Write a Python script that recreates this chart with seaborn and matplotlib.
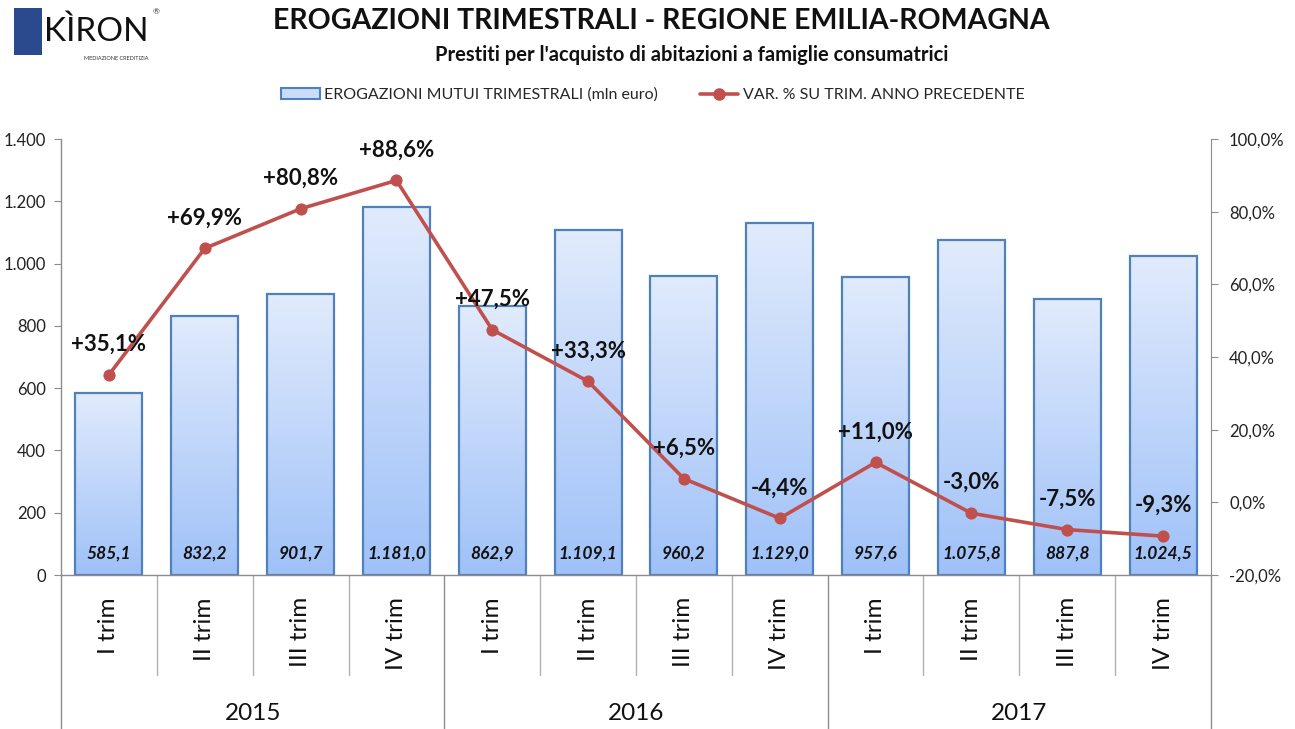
import numpy as np
import pandas as pd
import matplotlib
matplotlib.use("Agg")
import matplotlib.pyplot as plt
import seaborn as sns
from matplotlib.patches import Rectangle
from matplotlib.lines import Line2D
from matplotlib.legend_handler import HandlerBase
from matplotlib.colors import LinearSegmentedColormap

# ---------------- data ----------------
years = ["2015", "2016", "2017"]
quarters = ["I trim", "II trim", "III trim", "IV trim"]
erogazioni = [585.1, 832.2, 901.7, 1181.0, 862.9, 1109.1, 960.2, 1129.0, 957.6, 1075.8, 887.8, 1024.5]
var_pct = [35.1, 69.9, 80.8, 88.6, 47.5, 33.3, 6.5, -4.4, 11.0, -3.0, -7.5, -9.3]
left_ticks = [0, 200, 400, 600, 800, 1000, 1200, 1400]
right_ticks = [-20, 0, 20, 40, 60, 80, 100]

title = "EROGAZIONI TRIMESTRALI - REGIONE EMILIA-ROMAGNA"
subtitle = "Prestiti per l'acquisto di abitazioni a famiglie consumatrici"
legend_bar = "EROGAZIONI MUTUI TRIMESTRALI (mln euro)"
legend_line = "VAR. % SU TRIM. ANNO PRECEDENTE"

keys = [f"{y} {q}" for y in years for q in quarters]
df = pd.DataFrame({"key": keys, "quarter": quarters * len(years),
                   "erogazioni": erogazioni, "var": var_pct})
df["pos"] = np.arange(len(df))

# ---------------- style ----------------
sns.set_style("white")
plt.rcParams["font.family"] = ["Lato", "DejaVu Sans"]

W, H = 1295, 729
fig = plt.figure(figsize=(W / 100, H / 100), dpi=100)
ax = fig.add_axes([61 / W, 1 - 575 / H, (1211 - 61) / W, (575 - 139) / H])

bar_top = "#e1ebfc"
bar_bot = "#9fc1f8"
edge = "#4f81bd"
line_c = "#c0504d"
spine_c = "#8c8c8c"

sns.barplot(data=df, x="key", y="erogazioni", ax=ax, color=bar_top, width=0.7,
            edgecolor=edge, linewidth=1.6, order=keys)

# gradient fill
grad = np.linspace(0, 1, 256).reshape(-1, 1)
cmap = LinearSegmentedColormap.from_list("g", [bar_bot, bar_top])
for p in ax.patches:
    x0, y0 = p.get_x(), p.get_y()
    w, h = p.get_width(), p.get_height()
    im = ax.imshow(grad, cmap=cmap, aspect="auto", origin="lower",
                   extent=[x0, x0 + w, y0, y0 + h], zorder=p.get_zorder() - 0.1)
    im.set_clip_path(p)
    p.set_facecolor("none")
ax.set_xlim(-0.5, len(keys) - 0.5)
ax.set_ylim(0, 1400)

# value labels in bars
for i, v in enumerate(erogazioni):
    s = f"{v:,.1f}".replace(",", "X").replace(".", ",").replace("X", ".")
    ax.text(i, 0.05, s, transform=ax.get_xaxis_transform(), ha="center", va="center",
            fontsize=12.5, fontweight="bold", fontstyle="italic", color="#111111", zorder=5)

# axes styling
ax.set_xlabel("")
ax.set_ylabel("")
ax.set_yticks(left_ticks)
ax.set_yticklabels([f"{t:,}".replace(",", ".") for t in left_ticks], fontsize=12, color="#222222")
ax.set_xticks(range(len(keys)))
ax.set_xticklabels(df["quarter"], rotation=90, fontsize=17.5, color="#111111")
ax.tick_params(axis="x", length=0, pad=16)
ax.tick_params(axis="y", length=5, color=spine_c, direction="out", left=True, pad=6)
for s in ["top", "right"]:
    ax.spines[s].set_visible(False)
for s in ["left", "bottom"]:
    ax.spines[s].set_color(spine_c)
    ax.spines[s].set_linewidth(1.0)

# category separators
trans = ax.get_xaxis_transform()
ax_h = 575 - 139
y_tick_end = -(675 - 575) / ax_h
y_group_end = -(729 - 575) / ax_h
for b in np.arange(-0.5, len(keys), 1.0):
    is_group = abs(((b + 0.5) % 4)) < 1e-9
    yend = y_group_end if is_group else y_tick_end
    ax.plot([b, b], [0, yend], transform=trans, color=spine_c if is_group else "#b0b0b0",
            lw=1.0, clip_on=False)
for gi, yr in enumerate(years):
    ax.text(gi * 4 + 1.5, -(713 - 575) / ax_h, yr, transform=trans, ha="center", va="center",
            fontsize=17.5, color="#111111")

# secondary axis
ax2 = ax.twinx()
sns.lineplot(data=df, x="pos", y="var", ax=ax2, color=line_c, lw=2.6, marker="o",
             markersize=8, markeredgecolor=line_c, zorder=6)
ax2.set_ylim(-20, 100)
ax2.set_xlim(-0.5, len(keys) - 0.5)
ax2.set_yticks(right_ticks)
ax2.set_yticklabels([f"{t:.1f}%".replace(".", ",") for t in right_ticks], fontsize=12, color="#222222")
ax2.set_ylabel("")
ax2.set_xlabel("")
ax2.tick_params(axis="y", length=5, color=spine_c, direction="out", right=True, pad=8)
for s in ["top", "left", "bottom"]:
    ax2.spines[s].set_visible(False)
ax2.spines["right"].set_color(spine_c)

for i, v in enumerate(var_pct):
    s = f"{v:+.1f}%".replace(".", ",")
    ax2.annotate(s, (i, v), xytext=(0, 22), textcoords="offset points", ha="center",
                 va="center", fontsize=16, fontweight="bold", color="#111111", zorder=7)

# legend
class GradHandler(HandlerBase):
    def create_artists(self, legend, orig, xd, yd, width, height, fontsize, trans):
        r = Rectangle((xd, yd), width, height, facecolor="#c9dcfa", edgecolor=edge,
                      lw=1.5, transform=trans)
        return [r]

bar_handle = Rectangle((0, 0), 1, 1)
line_handle = Line2D([], [], color=line_c, lw=2.6, marker="o", markersize=8)
fig.legend([bar_handle, line_handle], [legend_bar, legend_line], ncol=2, frameon=False,
           loc="center", bbox_to_anchor=(653 / W, 1 - 95 / H), fontsize=11.5,
           handler_map={Rectangle: GradHandler()}, handlelength=2.4, columnspacing=2.6,
           handletextpad=0.3)

# titles
fig.text(661 / W, 1 - 21 / H, title, ha="center", va="center", fontsize=20.5, fontweight="bold",
         color="#111111")
fig.text(692 / W, 1 - 55 / H, subtitle, ha="center", va="center", fontsize=14.5, fontweight="bold",
         color="#111111")

# logo
fig.patches.append(Rectangle((14 / W, 1 - 55 / H), 28 / W, 47 / H, transform=fig.transFigure,
                             facecolor="#2b4a8e", edgecolor="none"))
fig.text(44 / W, 1 - 32 / H, "KÌRON", ha="left", va="center", fontsize=24, color="#111111")
fig.text(153 / W, 1 - 12 / H, "®", ha="left", va="center", fontsize=6, color="#333333")
fig.text(84 / W, 1 - 58 / H, "MEDIAZIONE CREDITIZIA", ha="left", va="center", fontsize=4,
         color="#333333")

fig.savefig("out.png", dpi=100)
